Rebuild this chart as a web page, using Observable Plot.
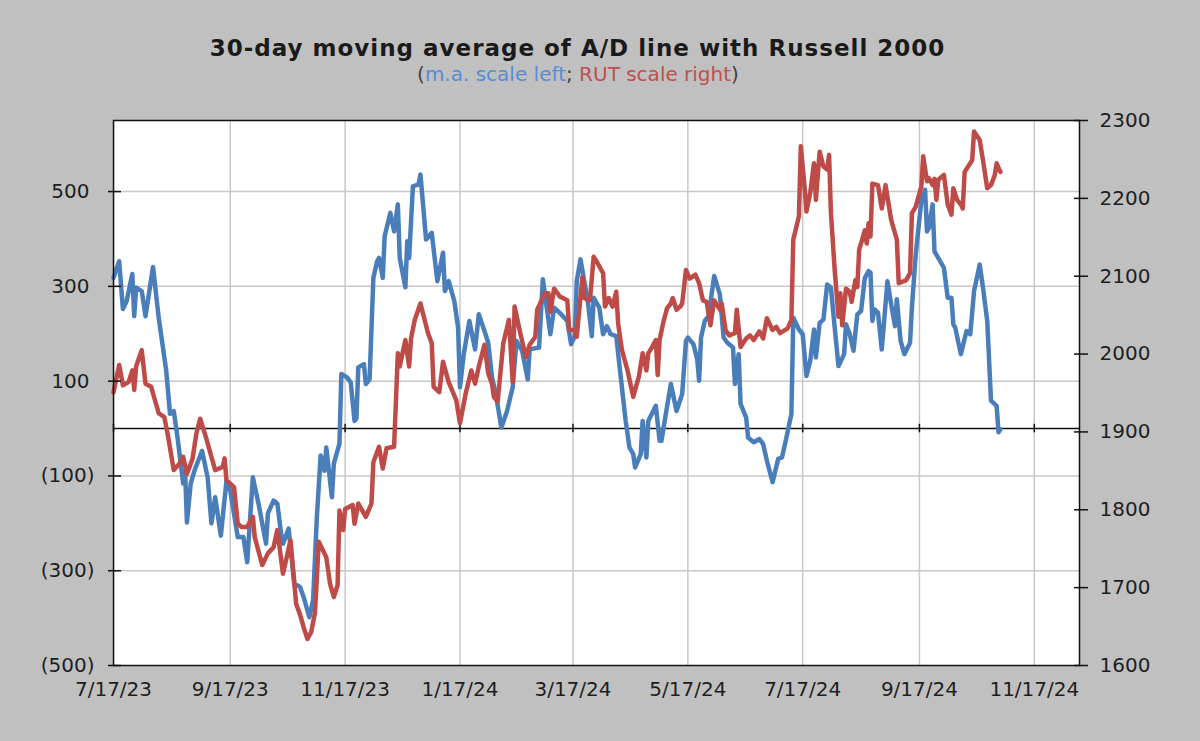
<!DOCTYPE html>
<html><head><meta charset="utf-8">
<script src="https://cdn.jsdelivr.net/npm/d3@7"></script>
<script src="https://cdn.jsdelivr.net/npm/@observablehq/plot@0.6"></script>
<style>
body{margin:0;background:#c0c0c0;width:1200px;height:741px;overflow:hidden;font-family:"DejaVu Sans",Verdana,sans-serif;}
#head{height:100px;position:relative;}
#title{position:absolute;left:0;width:1155px;top:35px;line-height:27px;text-align:center;font-weight:bold;font-size:23px;letter-spacing:1px;color:#1a1a1a;white-space:nowrap;}
#sub{position:absolute;left:0;width:1156px;top:63px;line-height:23px;text-align:center;font-size:20px;color:#404040;white-space:nowrap;}
#chart svg{display:block;}
</style></head>
<body>
<div id="head">
<div id="title">30-day moving average of A/D line with Russell 2000</div>
<div id="sub">(<span style="color:#558ed5">m.a. scale left</span>; <span style="color:#c0504d">RUT scale right</span>)</div>
</div>
<div id="chart"></div>
<script>
const startDate = "7/17/23";
const endDate = "12/11/24";

// 30-day m.a. of A/D line (left scale): days since start, value
const maDays = [0,3,5,7,10,11,12,15,17,21,24,28,30,32,34,37,38,39,41,43,
47,50,52,54,57,60,62,66,69,71,74,77,81,82,85,87,89,90,93,96,
99,101,104,106,108,110,112,113,116,117,120,121,124,126,128,129,130,133,134,136,
138,140,141,143,144,147,149,151,152,155,156,157,159,162,163,166,169,172,175,176,
178,181,183,184,186,189,192,194,197,199,201,203,206,209,212,214,217,220,221,226,
228,232,234,237,241,243,245,246,248,250,252,254,255,258,260,262,264,267,269,272,
274,276,277,280,281,283,284,288,290,291,293,296,299,302,304,305,308,310,311,312,
314,316,319,322,324,326,329,330,332,333,336,337,340,343,345,347,350,353,355,357,
360,361,364,366,368,370,372,373,375,377,379,381,383,385,388,389,391,393,395,397,
399,401,402,403,404,406,408,411,413,415,416,418,420,423,424,426,429,431,432,433,
435,436,439,441,443,445,446,447,450,453,455,457,460,462,464,466,469,470,471];
const maValues = [318,353,252,269,326,237,297,290,237,341,234,122,31,37,-19,-116,-89,-198,-116,-89,
-47,-103,-200,-145,-226,-110,-131,-229,-229,-282,-103,-158,-243,-179,-152,-158,-221,-243,-211,-327,
-334,-356,-398,-362,-187,-57,-89,-40,-145,-74,-32,115,108,97,16,21,129,136,94,104,
318,353,360,318,406,455,416,473,360,298,395,360,511,515,536,399,413,311,371,290,
311,269,213,87,157,227,167,241,206,181,108,73,2,37,87,185,164,104,167,171,
315,199,255,244,227,178,195,311,357,311,265,195,276,255,199,216,199,195,122,16,
-40,-54,-82,-54,16,-61,16,48,-26,-26,23,94,37,73,185,192,178,146,101,192,
227,237,322,283,192,181,171,94,157,52,23,-19,-29,-22,-33,-68,-113,-64,-61,-26,
31,234,209,199,111,143,209,150,223,230,304,297,213,132,157,220,199,164,241,248,
318,332,329,227,252,244,167,311,262,216,273,185,157,181,255,367,480,504,416,423,
473,374,353,339,276,276,220,213,157,206,199,290,346,290,227,59,48,-8,-1];

// Russell 2000 (right scale): days since start, index level
const rutDays = [0,3,5,8,10,11,12,15,17,20,24,27,29,32,35,37,39,42,44,46,
49,52,54,58,59,60,64,66,68,71,74,75,79,82,85,87,90,92,94,97,
99,101,103,105,107,109,113,115,117,119,120,122,123,127,128,130,134,137,138,141,
143,145,149,151,152,155,157,158,160,163,167,169,170,173,175,178,182,184,187,190,
192,194,197,199,201,202,204,207,210,212,213,216,219,221,224,225,229,231,232,234,
237,241,242,245,246,249,250,253,255,257,260,261,263,265,267,268,270,273,276,277,
279,281,283,284,286,288,289,290,292,294,296,297,299,301,302,304,306,309,311,313,
315,317,319,322,323,325,327,330,331,333,336,338,340,343,345,347,350,352,354,358,
360,361,364,365,367,368,370,372,373,375,377,379,380,381,383,385,386,387,389,391,
392,394,395,396,399,400,401,402,403,406,408,410,413,416,417,421,423,424,426,429,
430,432,433,435,436,437,438,441,443,445,446,448,450,451,452,455,456,457,460,462,
464,466,468,469,470,471];
const rutValues = [1951,1986,1960,1964,1979,1954,1984,2005,1962,1958,1924,1919,1894,1851,1859,1868,1846,1866,1898,1917,
1894,1868,1851,1855,1866,1838,1829,1782,1778,1778,1791,1765,1729,1744,1752,1774,1718,1739,1761,1679,
1666,1649,1634,1643,1668,1759,1739,1705,1688,1703,1799,1774,1801,1806,1782,1808,1791,1808,1861,1881,
1853,1879,1881,2001,1984,2018,1984,2020,2044,2065,2027,2014,1958,1951,1990,1964,1941,1911,1949,1979,
1962,1984,2012,1975,1962,1945,1939,2014,2044,1964,2061,2027,1996,2012,2022,2057,2078,2078,2054,2084,
2074,2069,2031,2031,2022,2099,2072,2069,2125,2117,2104,2061,2072,2061,2080,2039,2005,1979,1945,1954,
1971,2001,1979,2001,2009,2018,1973,2018,2041,2059,2065,2072,2057,2061,2065,2108,2097,2102,2091,2069,
2067,2037,2069,2057,2065,2031,2024,2027,2057,2009,2020,2024,2018,2029,2020,2046,2031,2035,2027,2033,
2044,2147,2177,2267,2215,2183,2207,2245,2198,2260,2241,2237,2256,2181,2108,2048,2078,2037,2084,2080,
2067,2095,2086,2134,2159,2142,2168,2151,2219,2217,2187,2217,2172,2147,2091,2095,2104,2181,2189,2215,
2254,2222,2226,2217,2225,2198,2224,2230,2192,2179,2213,2198,2192,2187,2234,2245,2249,2286,2275,2245,
2213,2217,2230,2245,2239,2234];

const dateTickLabels = ["7/17/23","9/17/23","11/17/23","1/17/24","3/17/24","5/17/24","7/17/24","9/17/24","11/17/24"];
const leftTicks = [-500,-300,-100,100,300,500];
const leftDomain = [-500, 650];
const rightTicks = [1600,1700,1800,1900,2000,2100,2200,2300];
const rightDomain = [1600, 2300];
const gridValues = [-300,-100,100,300,500];

const parse = d3.timeParse("%m/%d/%y");
const start = parse(startDate);
const dateTicks = dateTickLabels.map(parse);

// map RUT values onto the left scale (secondary axis)
const toLeft = r => leftDomain[0] + (r - rightDomain[0]) * (leftDomain[1] - leftDomain[0]) / (rightDomain[1] - rightDomain[0]);
const fromLeft = v => rightDomain[0] + (v - leftDomain[0]) * (rightDomain[1] - rightDomain[0]) / (leftDomain[1] - leftDomain[0]);

const ma = maDays.map((d, i) => ({date: d3.timeDay.offset(start, d), value: maValues[i]}));
const rut = rutDays.map((d, i) => ({date: d3.timeDay.offset(start, d), value: toLeft(rutValues[i])}));

const fmtLeft = d => d < 0 ? `(${-d})` : `${d}`;
const gridColor = "#c8c8c8";

const chart = Plot.plot({
  width: 1200,
  height: 641,
  marginTop: 20,
  marginBottom: 76,
  marginLeft: 113,
  marginRight: 121,
  style: {background: "transparent", fontFamily: "DejaVu Sans, Verdana, sans-serif", fontSize: "20px", color: "#1e1e1e"},
  x: {type: "time", domain: [start, parse(endDate)]},
  y: {domain: leftDomain},
  marks: [
    Plot.frame({fill: "white", stroke: "none"}),
    Plot.ruleX(dateTicks, {stroke: gridColor, strokeWidth: 1.5}),
    Plot.ruleY(gridValues, {stroke: gridColor, strokeWidth: 1.5}),
    Plot.ruleY([0], {stroke: "#111", strokeWidth: 1.5}),
    Plot.ruleX(dateTicks, {y1: -9, y2: 9, stroke: "#111", strokeWidth: 1.5}),
    Plot.line(ma, {x: "date", y: "value", stroke: "#4a7ebb", strokeWidth: 4.5, strokeLinejoin: "round", strokeLinecap: "round"}),
    Plot.line(rut, {x: "date", y: "value", stroke: "#be4b48", strokeWidth: 4.5, strokeLinejoin: "round", strokeLinecap: "round"}),
    Plot.frame({stroke: "#111", strokeWidth: 1.5}),
    Plot.axisY({ticks: leftTicks, tickSize: 13, dx: 8, fill: "none", stroke: "#111", strokeWidth: 1.5, label: null}),
    Plot.axisY({ticks: leftTicks.filter(d => d > 0), tickSize: 0, tickPadding: 24, tickFormat: fmtLeft, label: null}),
    Plot.axisY({ticks: leftTicks.filter(d => d < 0), tickSize: 0, tickPadding: 19, tickFormat: fmtLeft, label: null}),
    Plot.axisY({anchor: "right", ticks: rightTicks.map(toLeft), tickSize: 14, dx: -6, fill: "none", stroke: "#111", strokeWidth: 1.5, label: null}),
    Plot.axisY({anchor: "right", ticks: rightTicks.map(toLeft), tickSize: 0, tickPadding: 20, tickFormat: d => String(Math.round(fromLeft(d))), label: null}),
    Plot.axisX({ticks: dateTicks, tickSize: 0, tickPadding: 16, tickFormat: d3.timeFormat("%-m/%-d/%y"), label: null})
  ]
});
document.getElementById("chart").appendChild(chart);
</script>
</body></html>
